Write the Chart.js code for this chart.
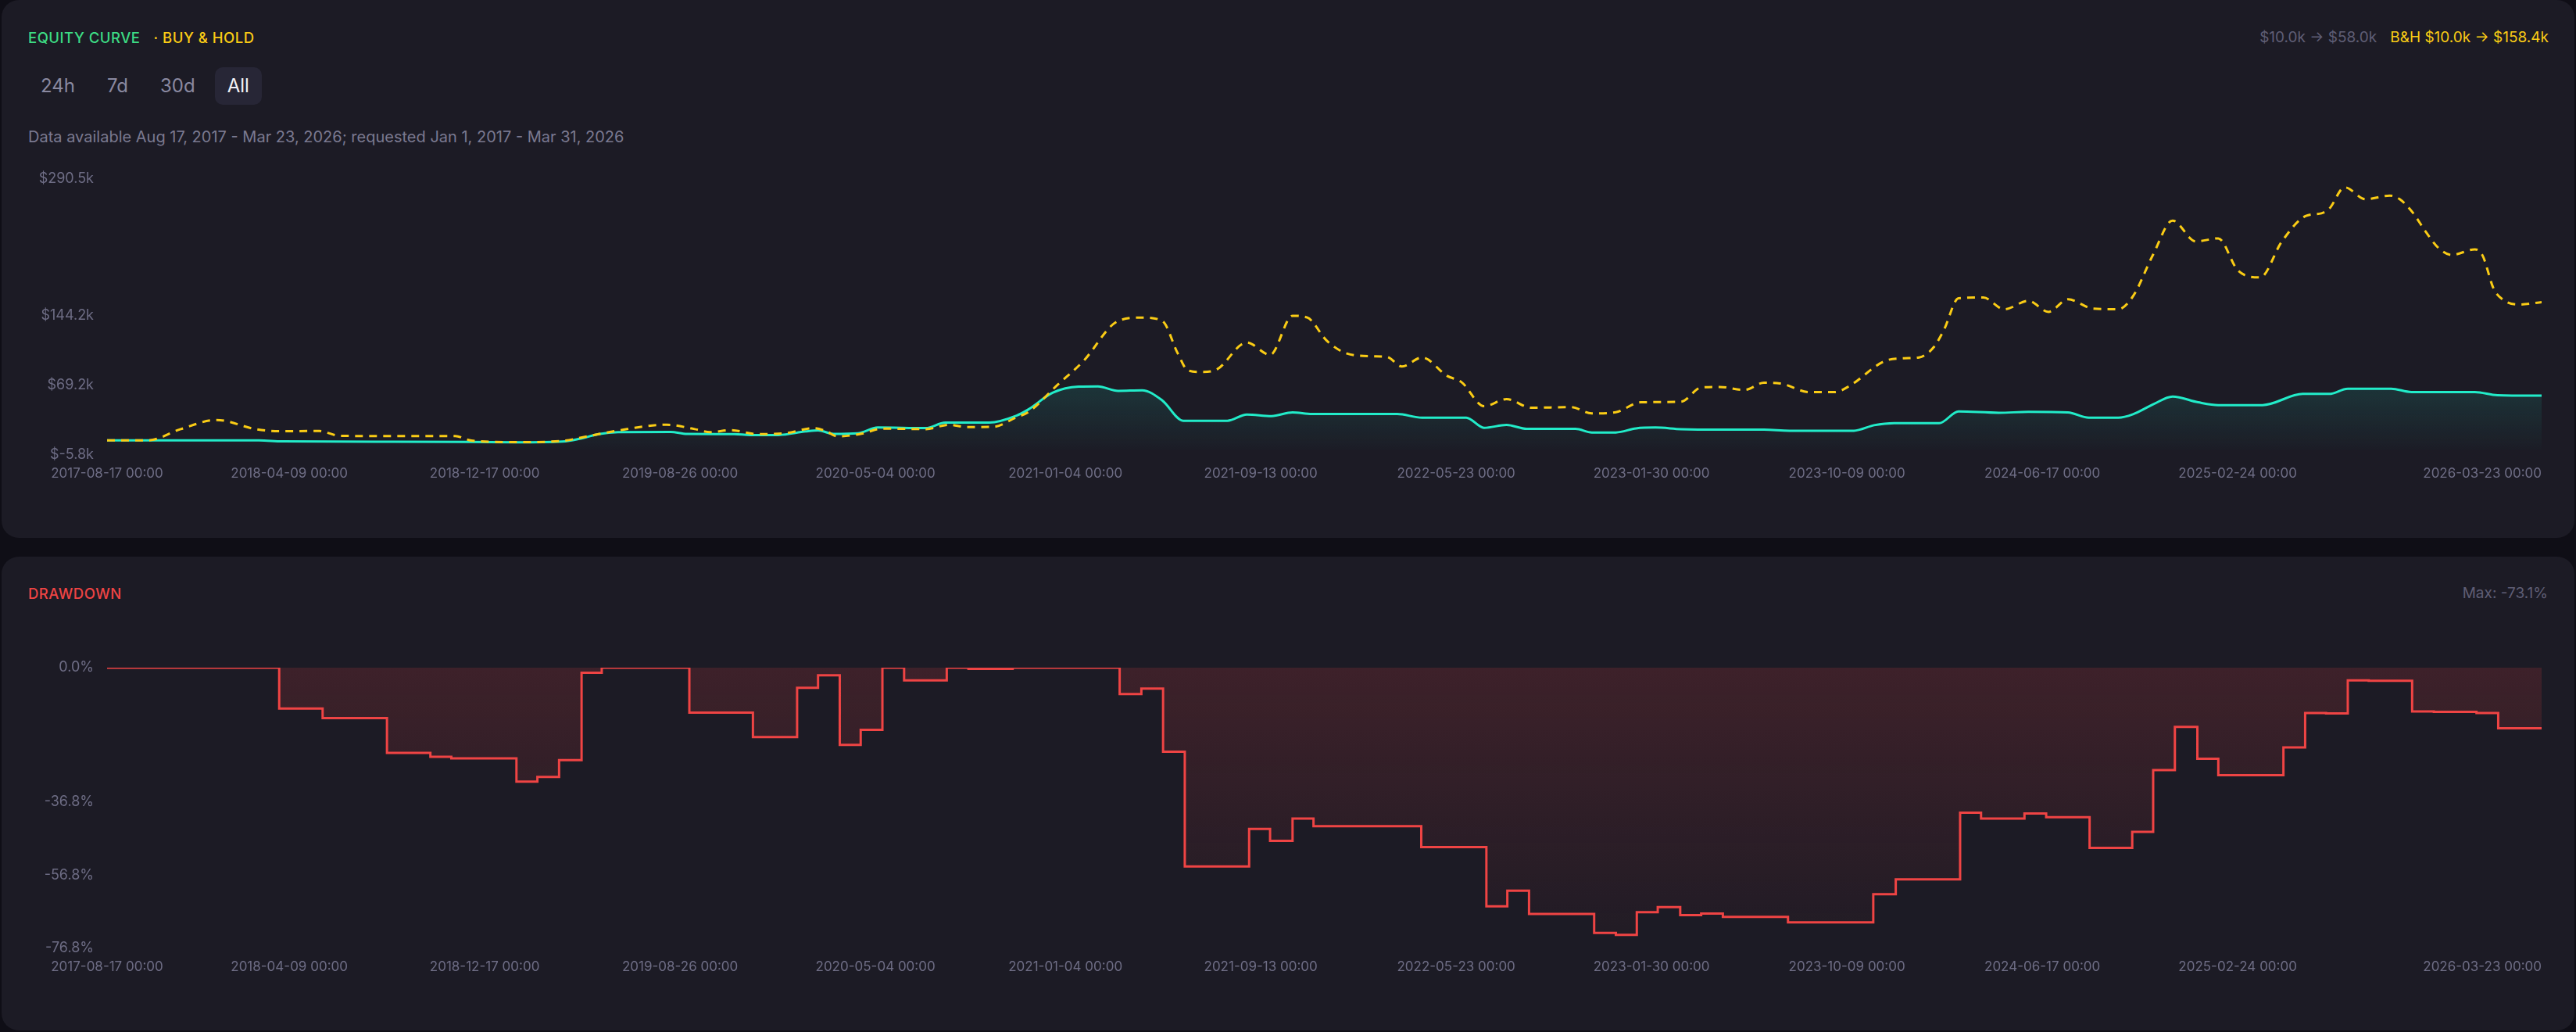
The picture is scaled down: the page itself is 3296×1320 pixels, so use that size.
<!DOCTYPE html>
<html>
<head>
<meta charset="utf-8">
<script src="https://cdn.jsdelivr.net/npm/chart.js@4.4.1/dist/chart.umd.min.js"></script>
<style>
  html, body { margin: 0; padding: 0; width: 3296px; height: 1320px; overflow: hidden; background: #0f0e16; font-family: Inter, 'Noto Sans', sans-serif; }
  .card { position: absolute; left: 2px; width: 3292px; background: #1c1b25; border-radius: 22px; }
  .abs { position: absolute; white-space: nowrap; }
  .title { font-size: 18.5px; line-height: 24px; letter-spacing: 0.5px; font-weight: 500; }
  .meta { font-size: 19px; line-height: 24px; }
  .note { font-size: 20px; line-height: 24px; }
  .tabs { position: absolute; left: 36px; top: 86px; display: flex; gap: 9px; }
  .tab { height: 48px; line-height: 48px; padding: 0 16px; border-radius: 10px; font-size: 24px; color: #8a89a0; }
  .tab.on { background: #272636; color: #f2f2f7; }
  canvas { position: absolute; }
</style>
</head>
<body>
<div class="card" style="top:0; height:688px;"></div>
<div class="card" style="top:712px; height:606px;"></div>

<div class="abs title" style="left:36px; top:36px;"><span style="color:#3ddc84">EQUITY CURVE</span><span style="color:#facc15; margin-left:17px">· BUY &amp; HOLD</span></div>
<div class="abs meta" style="right:35px; top:36px;"><span style="color:#5f5e75">$10.0k → $58.0k</span><span style="color:#facc15; margin-left:17px">B&amp;H $10.0k → $158.4k</span></div>
<div class="tabs"><div class="tab">24h</div><div class="tab">7d</div><div class="tab">30d</div><div class="tab on">All</div></div>
<div class="abs note" style="left:36px; top:163px; color:#7a7990;">Data available Aug 17, 2017 - Mar 23, 2026; requested Jan 1, 2017 - Mar 31, 2026</div>
<canvas id="equityChart" width="3252" height="440" style="left:20px; top:200px;"></canvas>

<div class="abs title" style="left:36px; top:747px; color:#ef4444;">DRAWDOWN</div>
<div class="abs meta" style="right:36px; top:747px; color:#5f5e75;">Max: -73.1%</div>
<canvas id="drawdownChart" width="3252" height="478" style="left:20px; top:820px;"></canvas>

<script>
// strategy equity curve ($k)
const equityDates = ['2017-08-17', '2018-03-01', '2018-03-31', '2018-08-19', '2018-11-28', '2019-01-27', '2019-03-27', '2019-04-23', '2019-05-13', '2019-06-07',
    '2019-08-14', '2019-09-04', '2019-11-04', '2019-11-24', '2019-12-31', '2020-02-04', '2020-02-20', '2020-03-11', '2020-04-11', '2020-05-07',
    '2020-07-08', '2020-08-02', '2020-09-28', '2020-11-02', '2020-11-17', '2020-12-19', '2021-01-21', '2021-02-15', '2021-03-13', '2021-04-13',
    '2021-05-09', '2021-06-05', '2021-08-01', '2021-08-26', '2021-09-27', '2021-10-24', '2021-11-18', '2022-03-08', '2022-04-09', '2022-06-05',
    '2022-06-28', '2022-07-27', '2022-08-22', '2022-10-24', '2022-11-14', '2022-12-15', '2023-01-10', '2023-02-04', '2023-03-09', '2023-04-28',
    '2023-06-24', '2023-07-27', '2023-10-18', '2023-11-13', '2023-12-09', '2024-02-05', '2024-03-01', '2024-04-22', '2024-05-30', '2024-07-20',
    '2024-08-16', '2024-09-23', '2024-10-12', '2024-11-07', '2024-12-02', '2025-01-04', '2025-01-30', '2025-03-28', '2025-05-19', '2025-06-22',
    '2025-07-16', '2025-09-10', '2025-10-06', '2025-12-27', '2026-01-25', '2026-03-23'];
const equityValues = [10.0, 10.0, 8.8, 8.4, 8.2, 7.8, 8.6, 12.5, 16.7, 18.8,
    19.0, 16.8, 16.7, 15.7, 15.7, 19.5, 20.6, 16.9, 17.5, 23.7,
    23.1, 29.0, 29.0, 36.5, 43.0, 61.2, 67.6, 67.9, 63.1, 63.7,
    52.8, 31.0, 31.0, 37.7, 36.0, 40.0, 38.3, 38.3, 34.3, 34.3,
    23.4, 26.5, 22.3, 22.3, 18.4, 18.4, 22.8, 23.7, 22.0, 21.4,
    21.4, 20.3, 20.3, 26.2, 28.4, 28.4, 41.0, 39.6, 40.5, 39.9,
    34.3, 34.3, 38.0, 48.6, 57.0, 50.8, 47.8, 47.8, 59.8, 59.8,
    65.4, 65.4, 61.8, 61.8, 58.5, 58.0];

// buy & hold ($k)
const holdDates = ['2017-08-17', '2017-10-09', '2017-11-20', '2018-01-05', '2018-02-25', '2018-03-28', '2018-05-18', '2018-06-13', '2018-08-29', '2018-11-09',
    '2018-11-30', '2019-01-30', '2019-03-27', '2019-05-03', '2019-05-29', '2019-08-09', '2019-09-14', '2019-10-04', '2019-10-30', '2019-12-04',
    '2020-01-10', '2020-02-15', '2020-03-01', '2020-03-16', '2020-04-16', '2020-05-13', '2020-07-08', '2020-08-07', '2020-08-29', '2020-10-03',
    '2020-11-02', '2020-11-17', '2020-12-25', '2021-01-27', '2021-03-13', '2021-04-13', '2021-05-09', '2021-05-29', '2021-06-11', '2021-06-30',
    '2021-07-19', '2021-08-26', '2021-09-25', '2021-10-24', '2021-11-12', '2021-12-07', '2022-01-02', '2022-02-03', '2022-02-23', '2022-03-14',
    '2022-04-09', '2022-05-11', '2022-05-30', '2022-06-28', '2022-07-27', '2022-08-28', '2022-10-18', '2022-11-14', '2022-12-15', '2023-01-16',
    '2023-03-09', '2023-04-04', '2023-04-28', '2023-05-30', '2023-06-24', '2023-07-15', '2023-08-22', '2023-09-23', '2023-10-12', '2023-11-26',
    '2023-12-22', '2024-01-10', '2024-01-29', '2024-02-11', '2024-03-01', '2024-04-02', '2024-04-29', '2024-05-30', '2024-06-25', '2024-07-20',
    '2024-08-22', '2024-09-23', '2024-10-12', '2024-11-07', '2024-12-02', '2025-01-01', '2025-01-30', '2025-02-24', '2025-03-25', '2025-04-22',
    '2025-05-23', '2025-06-12', '2025-06-22', '2025-07-12', '2025-08-08', '2025-09-08', '2025-09-21', '2025-10-08', '2025-10-24', '2025-11-10',
    '2025-11-27', '2025-12-27', '2026-01-06', '2026-01-20', '2026-02-02', '2026-02-22', '2026-03-23'];
const holdValues = [10.0, 10.0, 22.0, 31.8, 22.0, 19.8, 20.0, 14.8, 14.5, 14.6,
    9.7, 8.0, 9.4, 15.0, 19.2, 26.7, 22.0, 18.7, 20.9, 16.7,
    17.8, 23.1, 20.0, 14.2, 17.0, 22.5, 22.0, 26.7, 24.2, 24.5,
    34.8, 40.2, 69.6, 94.8, 138.1, 141.8, 138.1, 103.2, 85.0, 83.3,
    86.4, 115.0, 101.7, 143.7, 141.8, 117.1, 103.2, 100.3, 99.5, 89.2,
    98.9, 79.3, 72.4, 46.6, 54.2, 44.9, 45.7, 38.8, 40.2, 50.8,
    51.4, 66.7, 67.3, 64.0, 71.8, 71.0, 61.7, 61.7, 68.2, 94.8,
    98.1, 99.0, 110.0, 128.3, 162.4, 163.3, 150.7, 159.7, 147.9, 161.4,
    151.3, 150.7, 164.7, 209.5, 245.9, 223.5, 226.8, 192.7, 184.9, 223.5,
    250.9, 253.7, 258.5, 281.6, 268.8, 272.7, 268.8, 254.3, 234.6, 216.5,
    209.0, 215.0, 208.1, 173.0, 160.5, 155.7, 158.4];

// drawdown (%), each value holds until the next date
const drawdownDates = ['2017-08-17', '2018-03-27', '2018-05-22', '2018-08-13', '2018-10-08', '2018-11-04', '2019-01-27', '2019-02-23', '2019-03-23', '2019-04-21',
    '2019-05-17', '2019-09-07', '2019-11-28', '2020-01-24', '2020-02-20', '2020-03-19', '2020-04-15', '2020-05-13', '2020-06-10', '2020-08-04',
    '2020-09-01', '2020-10-28', '2021-03-15', '2021-04-12', '2021-05-10', '2021-06-07', '2021-08-29', '2021-09-25', '2021-10-24', '2021-11-20',
    '2022-04-08', '2022-07-01', '2022-07-28', '2022-08-25', '2022-11-17', '2022-12-15', '2023-01-11', '2023-02-07', '2023-03-08', '2023-04-04',
    '2023-05-02', '2023-07-25', '2023-11-12', '2023-12-11', '2024-03-03', '2024-03-30', '2024-05-25', '2024-06-22', '2024-08-17', '2024-10-11',
    '2024-11-07', '2024-12-05', '2025-01-03', '2025-01-30', '2025-04-24', '2025-05-22', '2025-06-18', '2025-07-16', '2025-08-12', '2025-10-07',
    '2025-11-04', '2025-12-29', '2026-01-26', '2026-03-23'];
const drawdownValues = [0, -11.2, -13.8, -23.3, -24.4, -24.8, -31.2, -29.9, -25.3, -1.4,
    0, -12.3, -19.0, -5.5, -2.1, -21.1, -17.0, 0, -3.5, 0,
    -0.3, 0, -7.2, -5.7, -23.0, -54.4, -44.1, -47.4, -41.3, -43.4,
    -49.1, -65.3, -61.0, -67.4, -72.6, -73.1, -66.9, -65.5, -67.7, -67.3,
    -68.2, -69.7, -62.0, -57.9, -39.7, -41.3, -39.9, -40.9, -49.3, -44.9,
    -28.0, -16.2, -24.9, -29.4, -21.8, -12.4, -12.5, -3.5, -3.6, -12.0,
    -12.1, -12.4, -16.6, -16.6];

// axis ticks
const tickDates = ['2017-08-17', '2018-04-09', '2018-12-17', '2019-08-26', '2020-05-04', '2021-01-04', '2021-09-13',
    '2022-05-23', '2023-01-30', '2023-10-09', '2024-06-17', '2025-02-24', '2026-03-23'];
const equityTicks = [-5.8, 69.2, 144.2, 290.5];
const drawdownTicks = [-76.8, -56.8, -36.8, 0];

const firstDay = Date.parse(tickDates[0]);
const lastDay = Date.parse(tickDates[tickDates.length - 1]);
const tickText = {};
tickDates.forEach(d => { tickText[Date.parse(d)] = d + ' 00:00'; });

const axisColor = '#6e6d85';

function toPoints (dates, values) {
    return dates.map((d, i) => ({ x: Date.parse(d), y: values[i] }));
}

// shared date axis; a blank tick just before the start keeps the first label centred with align 'inner'
function dateAxis (height) {
    return {
        type: 'linear',
        min: firstDay,
        max: lastDay,
        grid: { display: false, drawTicks: false },
        border: { display: false },
        ticks: {
            color: axisColor,
            font: { family: 'Inter', size: 17 },
            padding: 14,
            autoSkip: false,
            maxRotation: 0,
            minRotation: 0,
            align: 'inner',
            callback: v => tickText[v] || ''
        },
        afterBuildTicks: s => {
            s.ticks = [{ value: firstDay - 1 }].concat(tickDates.map(d => ({ value: Date.parse(d) })));
        },
        afterFit: s => { s.height = height; }
    };
}

function valueAxis (min, max, ticks, fmt) {
    return {
        min: min,
        max: max,
        grid: { display: false, drawTicks: false },
        border: { display: false },
        ticks: { color: axisColor, font: { family: 'Inter', size: 18 }, padding: 17, callback: fmt },
        afterBuildTicks: s => { s.ticks = ticks.map(v => ({ value: v })); },
        afterFit: s => { s.width = 117; }
    };
}

function draw () {
    new Chart(document.getElementById('equityChart'), {
        type: 'line',
        data: {
            datasets: [{
                label: 'Buy & Hold',
                data: toPoints(holdDates, holdValues),
                borderColor: '#facc15',
                borderWidth: 3,
                borderDash: [10, 8],
                pointRadius: 0,
                cubicInterpolationMode: 'monotone',
                fill: false
            }, {
                label: 'Equity',
                data: toPoints(equityDates, equityValues),
                borderColor: '#22ecc9',
                borderWidth: 3,
                pointRadius: 0,
                cubicInterpolationMode: 'monotone',
                fill: 'origin',
                backgroundColor: ctx => {
                    const chart = ctx.chart;
                    const area = chart.chartArea;
                    if (!area) return 'transparent';
                    const g = chart.ctx.createLinearGradient(0, chart.scales.y.getPixelForValue(70), 0, area.bottom);
                    g.addColorStop(0, 'rgba(34, 236, 201, 0.13)');
                    g.addColorStop(1, 'rgba(34, 236, 201, 0)');
                    return g;
                }
            }]
        },
        options: {
            responsive: false,
            devicePixelRatio: 1,
            animation: false,
            layout: { padding: { top: 29, right: 20, left: 0, bottom: 0 } },
            plugins: { legend: { display: false }, tooltip: { enabled: false } },
            scales: {
                x: dateAxis(58),
                y: valueAxis(-5.8, 290.5, equityTicks, v => '$' + v.toFixed(1) + 'k')
            }
        }
    });

    new Chart(document.getElementById('drawdownChart'), {
        type: 'line',
        data: {
            datasets: [{
                label: 'Drawdown',
                data: toPoints(drawdownDates, drawdownValues),
                borderColor: '#ef4444',
                borderWidth: 3,
                pointRadius: 0,
                stepped: true,
                fill: 'origin',
                backgroundColor: ctx => {
                    const area = ctx.chart.chartArea;
                    if (!area) return 'transparent';
                    const g = ctx.chart.ctx.createLinearGradient(0, area.top, 0, area.bottom);
                    g.addColorStop(0, 'rgba(239, 68, 68, 0.16)');
                    g.addColorStop(1, 'rgba(239, 68, 68, 0.02)');
                    return g;
                }
            }]
        },
        options: {
            responsive: false,
            devicePixelRatio: 1,
            animation: false,
            layout: { padding: { top: 34, right: 20, left: 0, bottom: 0 } },
            plugins: { legend: { display: false }, tooltip: { enabled: false } },
            scales: {
                x: dateAxis(85),
                y: valueAxis(-76.8, 0, drawdownTicks, v => v.toFixed(1) + '%')
            }
        }
    });
}

document.fonts.load('17px Inter').then(draw, draw);
</script>
</body>
</html>
